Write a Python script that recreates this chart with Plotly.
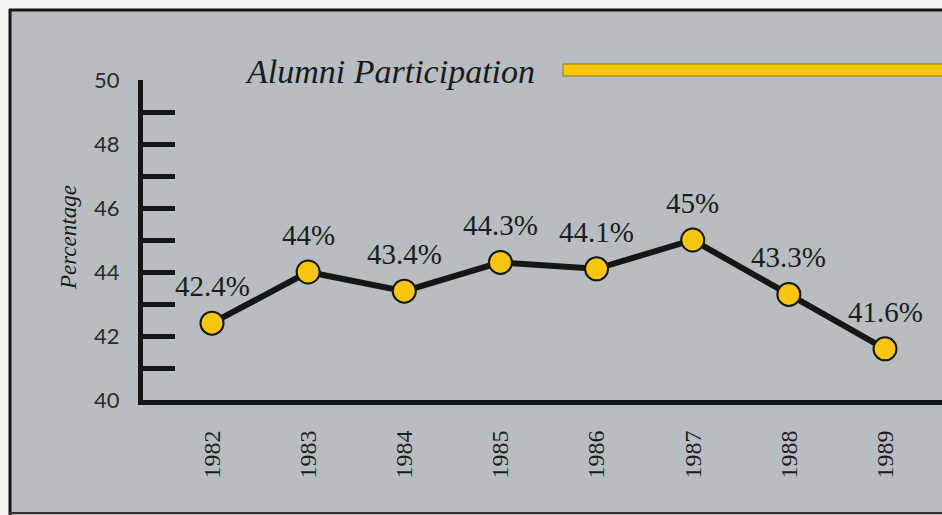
import plotly.graph_objects as go

years = [1982, 1983, 1984, 1985, 1986, 1987, 1988, 1989]
participation = [42.4, 44.0, 43.4, 44.3, 44.1, 45.0, 43.3, 41.6]
value_labels = ["42.4%", "44%", "43.4%", "44.3%", "44.1%", "45%", "43.3%", "41.6%"]
y_tick_values = [40, 42, 44, 46, 48, 50]
y_tick_labels = ["40", "42", "44", "46", "48", "50"]

W, H = 942, 515
L, R, T, B = 143, 0, 80, 115
PW, PH = W - L - R, H - T - B

def px(x):
    return (x - L) / PW

def py(y):
    return (H - B - y) / PH

BG = "#b7bdc1"
INK = "#161616"
YELLOW = "#f8c510"
SERIF = "Liberation Serif"
UPRIGHT_SERIF = "'Times New Roman', Tinos, 'Liberation Serif', 'DejaVu Serif', serif"

fig = go.Figure()
fig.add_trace(go.Scatter(
    x=years, y=participation, mode="lines+markers",
    line=dict(color=INK, width=6),
    marker=dict(size=23, color=YELLOW, line=dict(color=INK, width=2)),
    cliponaxis=False, hoverinfo="skip", showlegend=False,
))

annotations = []
for xv, yv, lab in zip(years, participation, value_labels):
    annotations.append(dict(
        x=xv, y=yv, xref="x", yref="y", text=lab, showarrow=False,
        yshift=37, xanchor="center", yanchor="middle",
        font=dict(family=UPRIGHT_SERIF, size=29, color="#1c1c1c"),
    ))

annotations.append(dict(
    x=px(243), y=py(71), xref="paper", yref="paper",
    text="<i>Alumni Participation</i>", showarrow=False,
    xanchor="left", yanchor="middle",
    font=dict(family=SERIF, size=34, color="#1a1a1a"),
))
annotations.append(dict(
    x=px(68), y=py(238), xref="paper", yref="paper",
    text="<i>Percentage</i>", showarrow=False, textangle=-90,
    xanchor="center", yanchor="middle",
    font=dict(family=SERIF, size=23, color="#1a1a1a"),
))

shapes = [
    dict(type="rect", xref="paper", yref="paper", x0=px(0), x1=px(W), y0=py(0), y1=py(9),
         fillcolor="#f4f2ee", line=dict(width=0), layer="below"),
    dict(type="rect", xref="paper", yref="paper", x0=px(0), x1=px(9), y0=py(0), y1=py(H),
         fillcolor="#f4f2ee", line=dict(width=0), layer="below"),
    dict(type="line", xref="paper", yref="paper", x0=px(9), x1=px(W), y0=py(10), y1=py(10),
         line=dict(color="#1b1410", width=3)),
    dict(type="line", xref="paper", yref="paper", x0=px(10), x1=px(10), y0=py(9), y1=py(H),
         line=dict(color="#1b1410", width=3)),
    dict(type="line", xref="paper", yref="paper", x0=px(9), x1=px(W), y0=py(513), y1=py(513),
         line=dict(color="#3a2a2a", width=2)),
    dict(type="rect", xref="paper", yref="paper", x0=px(563), x1=px(W + 5), y0=py(76), y1=py(64),
         fillcolor=YELLOW, line=dict(color="#9a7a10", width=1)),
]

fig.update_layout(
    width=W, height=H,
    margin=dict(l=L, r=R, t=T, b=B),
    paper_bgcolor=BG, plot_bgcolor=BG,
    font=dict(family=SERIF),
    annotations=annotations, shapes=shapes,
    xaxis=dict(
        range=[1982 - 69 / 96.14, 1989 + 57 / 96.14],
        tickmode="array", tickvals=years, ticktext=[str(y) for y in years],
        tickangle=-90, ticks="", showgrid=False, zeroline=False,
        showline=True, linecolor=INK, linewidth=5,
        ticklabelstandoff=16,
        tickfont=dict(family=UPRIGHT_SERIF, size=24, color="#1c1c1c"),
    ),
    yaxis=dict(
        range=[40, 50],
        tickmode="array", tickvals=y_tick_values, ticktext=y_tick_labels,
        ticks="inside", ticklen=32, tickwidth=5, tickcolor=INK,
        minor=dict(dtick=1, tick0=40, ticks="inside", ticklen=32, tickwidth=5, tickcolor=INK, showgrid=False),
        showgrid=False, zeroline=False,
        showline=True, linecolor=INK, linewidth=5,
        ticklabelstandoff=14,
        tickfont=dict(family="Lato", size=22, color="#2a2a2a"),
    ),
)

fig.write_html(
    "out.html",
    config={"displayModeBar": False},
    post_script="document.body.style.margin='0';document.body.style.overflow='hidden';",
)
